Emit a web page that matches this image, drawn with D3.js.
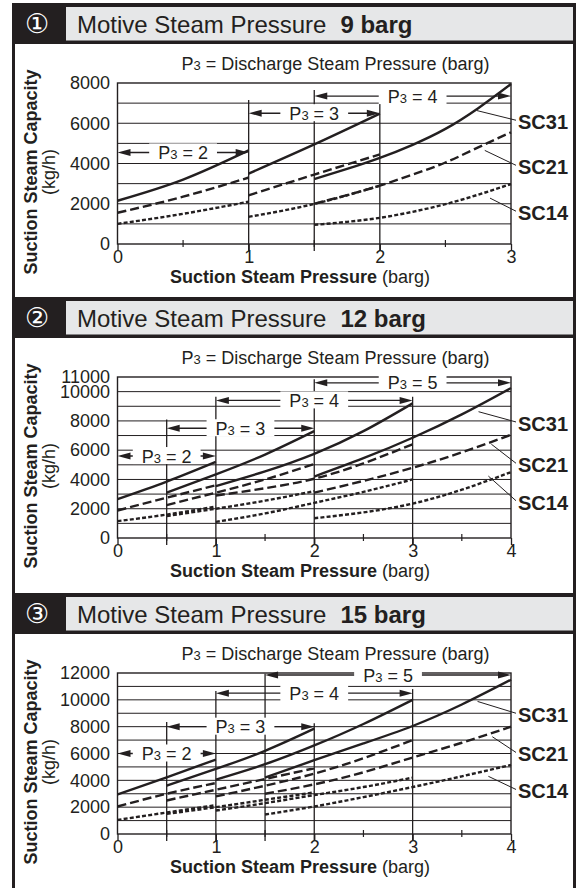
<!DOCTYPE html>
<html>
<head>
<meta charset="utf-8">
<script src="https://cdn.jsdelivr.net/npm/d3@7"></script>
<style>
  body { margin: 0; background: #fff; }
  svg { display: block; }
  text { white-space: pre; }
</style>
</head>
<body>
<svg id="chart" width="578" height="888"></svg>
<script>
// Steam ejector capacity charts

const models = ["SC31", "SC21", "SC14"];
const panelMarks = ["①", "②", "③"];
const motivePressures = ["9", "12", "15"];
const xMaxes = [3, 4, 4];
const yMaxes = [8000, 11000, 12000];

const m9YTicks = [0, 2000, 4000, 6000, 8000];
const m12YTicks = [0, 2000, 4000, 6000, 8000, 10000, 11000];
const m15YTicks = [0, 2000, 4000, 6000, 8000, 10000, 12000];

// motive 9 barg: one record per P3 segment and model
const m9Segments = [
  { p3: 2, model: "SC31", x: [0, 0.5, 1], y: [2150, 3200, 4650] },
  { p3: 2, model: "SC21", x: [0, 0.5, 1], y: [1550, 2350, 3300] },
  { p3: 2, model: "SC14", x: [0, 0.5, 1], y: [1000, 1500, 2100] },
  { p3: 3, model: "SC31", x: [1, 1.5, 2], y: [3500, 4950, 6480] },
  { p3: 3, model: "SC21", x: [1, 1.5, 2], y: [2420, 3450, 4450] },
  { p3: 3, model: "SC14", x: [1, 1.5, 2], y: [1350, 1990, 2900] },
  { p3: 4, model: "SC31", x: [1.5, 1.75, 2, 2.25, 2.5, 2.75, 3], y: [3230, 3730, 4280, 4930, 5720, 6750, 7950] },
  { p3: 4, model: "SC21", x: [1.5, 1.75, 2, 2.25, 2.5, 2.75, 3], y: [2000, 2430, 2900, 3450, 4050, 4800, 5550] },
  { p3: 4, model: "SC14", x: [1.5, 1.75, 2, 2.25, 2.5, 2.75, 3], y: [950, 1100, 1300, 1600, 1980, 2450, 2980] }
];

// motive 12 barg
const m12Segments = [
  { p3: 2, model: "SC31", x: [0, 0.5, 1], y: [2650, 3850, 5200] },
  { p3: 2, model: "SC21", x: [0, 0.5, 1], y: [1880, 2750, 3600] },
  { p3: 2, model: "SC14", x: [0, 0.5, 1], y: [1150, 1600, 2150] },
  { p3: 3, model: "SC31", x: [0.5, 1, 1.5, 2], y: [3100, 4350, 5700, 7300] },
  { p3: 3, model: "SC21", x: [0.5, 1, 1.5, 2], y: [2250, 3100, 4000, 5050] },
  { p3: 3, model: "SC14", x: [0.5, 1, 1.5, 2], y: [1500, 2000, 2550, 3200] },
  { p3: 4, model: "SC31", x: [1, 1.5, 2, 2.5, 3], y: [3550, 4550, 5750, 7300, 9200] },
  { p3: 4, model: "SC21", x: [1, 1.5, 2, 2.5, 3], y: [2900, 3400, 4050, 5100, 6400] },
  { p3: 4, model: "SC14", x: [1, 1.5, 2, 2.5, 3], y: [1100, 1680, 2400, 3150, 4000] },
  { p3: 5, model: "SC31", x: [2, 2.5, 3, 3.5, 4], y: [4200, 5450, 6850, 8450, 10250] },
  { p3: 5, model: "SC21", x: [2, 2.5, 3, 3.5, 4], y: [3100, 3900, 4800, 5850, 7050] },
  { p3: 5, model: "SC14", x: [2, 2.5, 3, 3.5, 4], y: [1350, 1750, 2350, 3300, 4500] }
];

// motive 15 barg
const m15Segments = [
  { p3: 2, model: "SC31", x: [0, 0.5, 1], y: [2950, 4220, 5550] },
  { p3: 2, model: "SC21", x: [0, 0.5, 1], y: [2050, 3000, 3800] },
  { p3: 2, model: "SC14", x: [0, 0.5, 1], y: [1050, 1600, 2150] },
  { p3: 3, model: "SC31", x: [0.5, 1, 1.5, 2], y: [3600, 4850, 6200, 7850] },
  { p3: 3, model: "SC21", x: [0.5, 1, 1.5, 2], y: [2500, 3300, 4100, 4900] },
  { p3: 3, model: "SC14", x: [0.5, 1, 1.5, 2], y: [1500, 2000, 2550, 3100] },
  { p3: 4, model: "SC31", x: [1, 1.5, 2, 2.5, 3], y: [4050, 5200, 6600, 8200, 10000] },
  { p3: 4, model: "SC21", x: [1, 1.5, 2, 2.5, 3], y: [2800, 3600, 4500, 5650, 7000] },
  { p3: 4, model: "SC14", x: [1, 1.5, 2, 2.5, 3], y: [1750, 2300, 2900, 3500, 4200] },
  { p3: 5, model: "SC31", x: [1.5, 2, 2.5, 3, 3.5, 4], y: [4200, 5500, 6750, 8050, 9650, 11500] },
  { p3: 5, model: "SC21", x: [1.5, 2, 2.5, 3, 3.5, 4], y: [3000, 3700, 4600, 5700, 6800, 8000] },
  { p3: 5, model: "SC14", x: [1.5, 2, 2.5, 3, 3.5, 4], y: [1450, 2050, 2750, 3500, 4300, 5150] }
];

// P3 range arrows: suction pressure span and the capacity level they sit at
const m9Arrows = [
  { p3: 2, from: 0, to: 1, at: 4550 },
  { p3: 3, from: 1, to: 2, at: 6500 },
  { p3: 4, from: 1.5, to: 3, at: 7350 }
];
const m12Arrows = [
  { p3: 2, from: 0, to: 1, at: 5600 },
  { p3: 3, from: 0.5, to: 2, at: 7500 },
  { p3: 4, from: 1, to: 3, at: 9400 },
  { p3: 5, from: 2, to: 4, at: 10600 }
];
const m15Arrows = [
  { p3: 2, from: 0, to: 1, at: 6000 },
  { p3: 3, from: 0.5, to: 2, at: 8000 },
  { p3: 4, from: 1, to: 3, at: 10500 },
  { p3: 5, from: 1.5, to: 4, at: 11850 }
];

// vertical range boundaries (suction pressure, top of the line)
const m9Bounds = [{ x: 1, top: 7150 }, { x: 1.5, top: 7650 }, { x: 2, top: 7150 }];
const m12Bounds = [{ x: 0.5, top: 8100 }, { x: 1, top: 9650 }, { x: 2, top: 10850 }, { x: 3, top: 9650 }];
const m15Bounds = [{ x: 0.5, top: 8350 }, { x: 1, top: 10650 }, { x: 1.5, top: 11950 }, { x: 2, top: 8250 }, { x: 3, top: 10800 }];

// model labels: label level and the point the leader touches
const m9Leaders = [
  { model: "SC31", label: 6050, x: 2.74, y: 6630 },
  { model: "SC21", label: 3810, x: 2.80, y: 4650 },
  { model: "SC14", label: 1530, x: 2.84, y: 2280 }
];
const m12Leaders = [
  { model: "SC31", label: 7790, x: 3.67, y: 8630 },
  { model: "SC21", label: 4970, x: 3.80, y: 6410 },
  { model: "SC14", label: 2410, x: 3.77, y: 4230 }
];
const m15Leaders = [
  { model: "SC31", label: 8850, x: 3.66, y: 9880 },
  { model: "SC21", label: 5930, x: 3.81, y: 7250 },
  { model: "SC14", label: 3170, x: 3.77, y: 4300 }
];

const panels = [
  { segs: m9Segments, arrows: m9Arrows, bounds: m9Bounds, leaders: m9Leaders, yTicks: m9YTicks },
  { segs: m12Segments, arrows: m12Arrows, bounds: m12Bounds, leaders: m12Leaders, yTicks: m12YTicks },
  { segs: m15Segments, arrows: m15Arrows, bounds: m15Bounds, leaders: m15Leaders, yTicks: m15YTicks }
];
const headerTops = [3, 297, 593];

const ink = "#231f20";
const font = '"Liberation Sans", Arial, Helvetica, sans-serif';
const dashes = { SC31: null, SC21: "9,4", SC14: "4,2.2" };

const svg = d3.select("#chart")
    .attr("font-family", font)
    .attr("fill", ink);

// outer frame
svg.append("rect")
    .attr("x", 13.5).attr("y", 4.5)
    .attr("width", 561).attr("height", 900)
    .attr("fill", "none")
    .attr("stroke", ink)
    .attr("stroke-width", 3);

panels.forEach((p, i) => drawPanel(p, i, headerTops[i]));

function p3Label(sel, tail) {
  sel.append("tspan").text("P");
  sel.append("tspan").attr("font-size", 13).text("3");
  sel.append("tspan").text(tail);
}

function drawPanel(p, i, top) {
  const g = svg.append("g");

  // header bar
  g.append("rect")
      .attr("x", 12).attr("y", top)
      .attr("width", 564).attr("height", 41)
      .attr("fill", ink);
  g.append("rect")
      .attr("x", 66).attr("y", top + 4)
      .attr("width", 507).attr("height", 33.5)
      .attr("fill", "#e6e7e8");
  g.append("text")
      .attr("x", 37).attr("y", top + 29.5)
      .attr("text-anchor", "middle")
      .attr("font-family", '"DejaVu Sans", sans-serif')
      .attr("font-size", 27)
      .attr("fill", "#fff")
      .text(panelMarks[i]);
  const title = g.append("text")
      .attr("x", 77).attr("y", top + 30)
      .attr("font-size", 24);
  title.append("tspan").text("Motive Steam Pressure");
  title.append("tspan").attr("dx", 14).attr("font-weight", "bold")
      .text(motivePressures[i] + " barg");

  const x = d3.scaleLinear([0, xMaxes[i]], [117.5, 511]);
  const y = d3.scaleLinear([0, yMaxes[i]], [top + 241, top + 80]);
  const y0 = y(0);

  // horizontal grid every 1000 kg/h
  g.append("g")
      .attr("stroke", ink)
      .attr("stroke-width", 1)
    .selectAll("line")
    .data(d3.range(1000, yMaxes[i], 1000))
    .join("line")
      .attr("x1", x(0)).attr("x2", x(xMaxes[i]))
      .attr("y1", d => y(d)).attr("y2", d => y(d));

  // P3 boundaries
  g.append("g")
      .attr("stroke", ink)
      .attr("stroke-width", 1.3)
    .selectAll("line")
    .data(p.bounds)
    .join("line")
      .attr("x1", d => x(d.x)).attr("x2", d => x(d.x))
      .attr("y1", d => y(d.top)).attr("y2", y0 + 7);

  // plot frame
  g.append("rect")
      .attr("x", x(0)).attr("y", y(yMaxes[i]))
      .attr("width", x(xMaxes[i]) - x(0))
      .attr("height", y0 - y(yMaxes[i]))
      .attr("fill", "none")
      .attr("stroke", ink)
      .attr("stroke-width", 1.4);

  // x axis ticks
  const xAxis = g.append("g")
      .attr("transform", `translate(0,${y0})`)
      .call(d3.axisBottom(x).tickValues(d3.range(0, xMaxes[i] + 1)).tickSize(7).tickPadding(-1).tickFormat(d3.format("d")));
  xAxis.select(".domain").remove();
  xAxis.attr("font-family", null).attr("font-size", 18);
  xAxis.selectAll("line").attr("stroke", ink).attr("stroke-width", 1.3);
  xAxis.selectAll("text").attr("fill", ink);

  g.append("g")
      .attr("stroke", ink)
      .attr("stroke-width", 1.2)
    .selectAll("line")
    .data(d3.range(0.5, xMaxes[i], 1))
    .join("line")
      .attr("x1", d => x(d)).attr("x2", d => x(d))
      .attr("y1", y0 - 4).attr("y2", y0 + 3);

  // y axis labels
  const yAxis = g.append("g")
      .attr("transform", `translate(${x(0)},0)`)
      .call(d3.axisLeft(y).tickValues(p.yTicks).tickSize(0).tickPadding(7.5).tickFormat(d3.format("d")));
  yAxis.select(".domain").remove();
  yAxis.attr("font-family", null).attr("font-size", 18);
  yAxis.selectAll("text").attr("fill", ink);

  // curves
  const line = d3.line()
      .x(d => x(d[0]))
      .y(d => y(d[1]))
      .curve(d3.curveNatural);
  g.append("g")
      .attr("fill", "none")
      .attr("stroke", ink)
      .attr("stroke-width", 2.4)
    .selectAll("path")
    .data(p.segs)
    .join("path")
      .attr("stroke-dasharray", d => dashes[d.model])
      .attr("d", d => line(d3.zip(d.x, d.y)));

  // P3 arrows
  p.arrows.forEach(a => {
    const ay = y(a.at), xa = x(a.from), xb = x(a.to), cx = (xa + xb) / 2;
    g.append("line")
        .attr("x1", xa + 8).attr("x2", xb - 8)
        .attr("y1", ay).attr("y2", ay)
        .attr("stroke", ink)
        .attr("stroke-width", 1.4);
    g.append("path")
        .attr("d", `M${xa},${ay}L${xa + 13},${ay - 3.5}L${xa + 13},${ay + 3.5}Z M${xb},${ay}L${xb - 13},${ay - 3.5}L${xb - 13},${ay + 3.5}Z`)
        .attr("fill", ink);
    const box = g.append("rect").attr("fill", "#fff");
    const t = g.append("text")
        .attr("x", cx).attr("y", ay + 6.5)
        .attr("text-anchor", "middle")
        .attr("font-size", 18);
    p3Label(t, " = " + a.p3);
    const w = t.node().getComputedTextLength();
    box.attr("x", cx - w / 2 - 9).attr("y", ay - 9)
        .attr("width", w + 18).attr("height", 17);
  });

  // P3 caption above plot
  const cap = g.append("text")
      .attr("x", 335.5).attr("y", top + 67)
      .attr("text-anchor", "middle")
      .attr("font-size", 18);
  p3Label(cap, " = Discharge Steam Pressure (barg)");

  // axis titles
  const xt = g.append("text")
      .attr("x", 170).attr("y", top + 280)
      .attr("font-size", 18);
  xt.append("tspan").attr("font-weight", "bold").text("Suction Steam Pressure");
  xt.append("tspan").text(" (barg)");

  g.append("text")
      .attr("transform", `translate(36.5,${top + 169}) rotate(-90)`)
      .attr("text-anchor", "middle")
      .attr("font-size", 18)
      .attr("font-weight", "bold")
      .text("Suction Steam Capacity");
  g.append("text")
      .attr("transform", `translate(55,${top + 169}) rotate(-90)`)
      .attr("text-anchor", "middle")
      .attr("font-size", 18)
      .text("(kg/h)");

  // model labels with leaders
  g.append("g")
      .attr("stroke", ink)
      .attr("stroke-width", 1)
    .selectAll("line")
    .data(p.leaders)
    .join("line")
      .attr("x1", 516).attr("y1", d => y(d.label) - 2)
      .attr("x2", d => x(d.x)).attr("y2", d => y(d.y));
  g.append("g")
      .attr("font-size", 20)
      .attr("font-weight", "bold")
    .selectAll("text")
    .data(p.leaders)
    .join("text")
      .attr("x", 518).attr("y", d => y(d.label) + 7)
      .text(d => d.model);
}
</script>
</body>
</html>
